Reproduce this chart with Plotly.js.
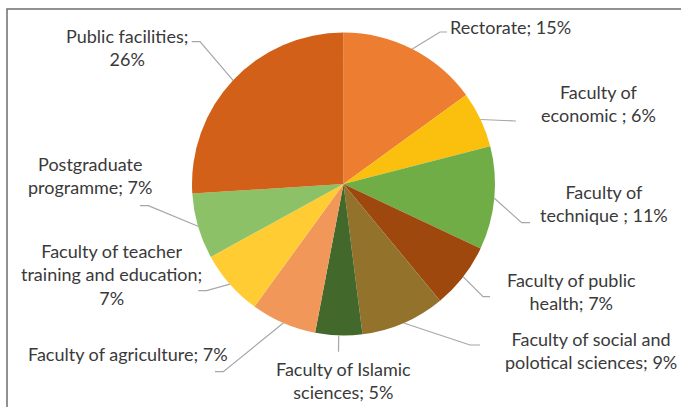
<!DOCTYPE html>
<html>
<head>
<meta charset="utf-8">
<script src="https://cdn.plot.ly/plotly-3.0.1.min.js"></script>
<style>html,body{margin:0;padding:0;background:#fff;}#chart{width:681px;height:407px;}</style>
</head>
<body>
<div id="chart"></div>
<script>
// ---- data ----
const categories = ['Rectorate', 'Faculty of economic', 'Faculty of technique', 'Faculty of public health',
  'Faculty of social and polotical sciences', 'Faculty of Islamic sciences', 'Faculty of agriculture',
  'Faculty of teacher training and education', 'Postgraduate programme', 'Public facilities'];
const values = [15, 6, 11, 7, 9, 5, 7, 7, 7, 26];
const labelFormats = ['Rectorate; {v}%', 'Faculty of<br>economic ; {v}%', 'Faculty of<br>technique ; {v}%',
  'Faculty of public<br>health; {v}%', 'Faculty of social and<br>polotical sciences; {v}%',
  'Faculty of Islamic<br>sciences; {v}%', 'Faculty of agriculture; {v}%',
  'Faculty of teacher<br>training and education;<br>{v}%', 'Postgraduate<br>programme; {v}%',
  'Public facilities;<br>{v}%'];

// ---- styles / layout ----
const colors = ['#ED7D31', '#FBBF0E', '#70AD47', '#9E480E', '#93722C', '#43682B', '#F1975A', '#FFCD33', '#8CC168', '#D26018'];
const W = 681, H = 407;
const CX = 343.5, CY = 184, R = 151.5;
const labelCenters = [[511, 27], [598, 103.5], [604, 203.5], [571.7, 291.5], [591, 350],
  [343, 380.5], [127.5, 354], [111, 274], [90, 175.7], [126.5, 47]];
const leaderPts = [
  [[440, 32], [447, 32]],
  [[516, 121]],
  [[521.7, 222.7], [530, 222.7]],
  [[483, 296.7], [490, 296.7]],
  [[470, 345], [480, 345]],
  [[338.5, 351.7]],
  [[223.3, 371.7], [215, 371.7]],
  [[206.7, 290.7], [198.3, 290.7]],
  [[148.3, 205.7], [140, 205.7]],
  [[200, 41.7], [191.7, 41.7]]
];
const FONT = 'Lato, "Liberation Sans", sans-serif';
const TXT = '#3A3A3A';

const px = x => x / W;
const py = y => 1 - y / H;

const total = values.reduce((a, b) => a + b, 0);
const shapes = [];
const annotations = [];
let cum = 0;
values.forEach((v, i) => {
  const ang = (cum + v / 2) / total * 2 * Math.PI;
  cum += v;
  const sx = CX + R * Math.sin(ang), sy = CY - R * Math.cos(ang);
  let path = `M${px(sx)},${py(sy)}`;
  leaderPts[i].forEach(p => { path += ` L${px(p[0])},${py(p[1])}`; });
  shapes.push({type: 'path', xref: 'paper', yref: 'paper', path: path,
    line: {color: '#A6A6A6', width: 1.2}});
  annotations.push({xref: 'paper', yref: 'paper', x: px(labelCenters[i][0]), y: py(labelCenters[i][1]),
    xanchor: 'center', yanchor: 'middle', align: 'center', showarrow: false,
    text: labelFormats[i].replace('{v}', v), font: {family: FONT, size: 18, color: TXT}});
});
// frame (left and top edges)
shapes.push({type: 'path', xref: 'paper', yref: 'paper',
  path: `M${px(7)},${py(407)} L${px(7)},${py(9)} L${px(681)},${py(9)}`,
  line: {color: '#6E6E6E', width: 1.5}});

const trace = {
  type: 'pie', labels: categories, values: values, sort: false, direction: 'clockwise', rotation: 0,
  marker: {colors: colors, line: {width: 0}}, textinfo: 'none', hoverinfo: 'label+percent',
  automargin: false,
  domain: {x: [px(CX - R), px(CX + R)], y: [py(CY + R), py(CY - R)]}
};
const layout = {
  width: W, height: H, margin: {l: 0, r: 0, t: 0, b: 0},
  paper_bgcolor: '#fff', plot_bgcolor: '#fff', showlegend: false,
  shapes: shapes, annotations: annotations
};
Plotly.newPlot('chart', [trace], layout, {displayModeBar: false, staticPlot: true});
</script>
</body>
</html>
